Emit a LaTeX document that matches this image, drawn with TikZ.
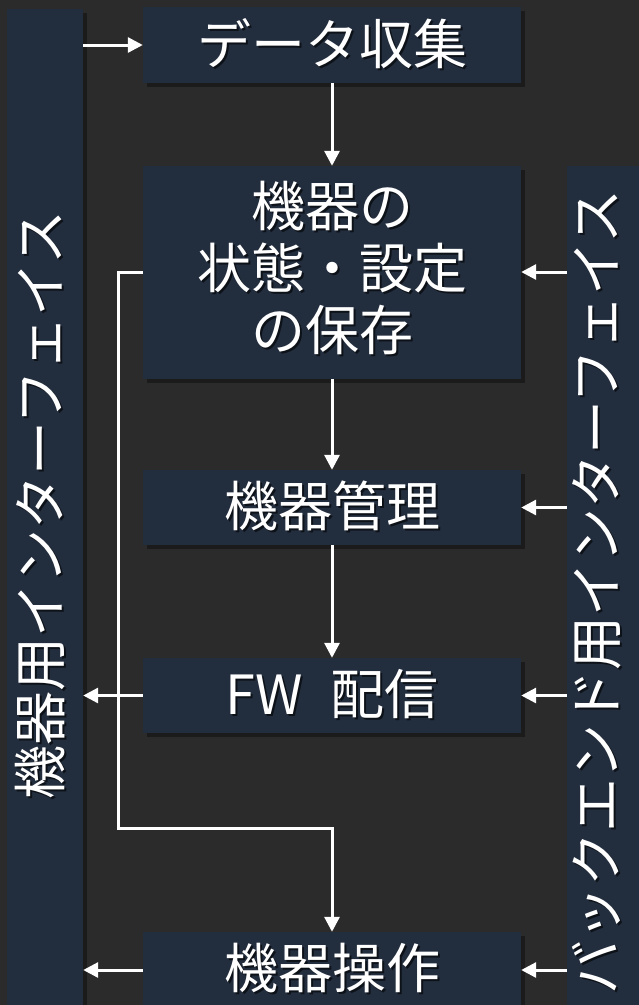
\documentclass[tikz,border=0pt]{standalone}
\usepackage{fontspec}
\setmainfont{Noto Sans CJK JP}
\usetikzlibrary{arrows.meta,shadows,calc}
\definecolor{bg}{HTML}{2B2B2B}
\definecolor{navy}{HTML}{222D3E}
\newcommand\shtxt[4][]{%
  \node[txt,#1,text=black,text opacity=0.6] at ($(#3)+(2,2)$) {#4};
  \node[txt,#1] (#2) at (#3) {#4};}
\begin{document}
\begin{tikzpicture}[x=1pt,y=-1pt,
  box/.style={fill=navy, draw=none, inner sep=0pt,
    drop shadow={shadow xshift=4pt, shadow yshift=-4pt, opacity=0.35, fill=black}},
  txt/.style={text=white, font=\fontsize{54}{62}\selectfont, align=center, inner sep=0pt},
  arr/.style={draw=white, line width=3pt, -{Triangle[length=15pt,width=15pt]}}]
\path[fill=bg] (0,0) rectangle (639,1005);
\useasboundingbox (0,0) rectangle (639,1005);
\clip (0,0) rectangle (639,1005);
% bars
\node[box, minimum width=76pt, minimum height=1000pt] (lbar) at (45,509) {};
\node[box, minimum width=80pt, minimum height=850pt] (rbar) at (607,591) {};
% boxes
\node[box, minimum width=378pt, minimum height=76pt] (box1) at (332,45) {};
\node[box, minimum width=378pt, minimum height=213pt] (box2) at (332,272.5) {};
\node[box, minimum width=378pt, minimum height=75pt] (box3) at (332,507.5) {};
\node[box, minimum width=378pt, minimum height=75pt] (box4) at (332,695.5) {};
\node[box, minimum width=378pt, minimum height=80pt] (box5) at (332,972) {};
% texts
\shtxt{t1}{332,44}{データ収集}
\shtxt{t2}{332,268}{機器の\\状態・設定\\の保存}
\shtxt{t3}{332,506}{機器管理}
\shtxt{t4}{332,694}{FW\hspace{0.5em}配信}
\shtxt{t5}{332,968}{機器操作}
\shtxt[rotate=90]{tl}{40,505}{機器用インターフェイス}
\shtxt[rotate=90]{tr}{597,592}{バックエンド用インターフェイス}
% connectors
\draw[arr] (lbar.east |- box1) -- (box1.west);
\draw[arr] (box1.south) -- (box2.north);
\draw[arr] (box2.south) -- (box3.north);
\draw[arr] (box3.south) -- (box4.north);
\coordinate (c1) at (118,272);
\coordinate (c2) at (118,828);
\coordinate (c3) at (332,828);
\draw[arr] (box2.west |- c1) -- (c1) -- (c2) -- (c3) -- (box5.north);
\draw[arr] (rbar.west |- c1) -- (box2.east |- c1);
\draw[arr] (rbar.west |- box3) -- (box3.east);
\draw[arr] (rbar.west |- box4) -- (box4.east);
\draw[arr] (rbar.west |- 0,970) -- (box5.east |- 0,970);
\draw[arr] (box4.west) -- (lbar.east |- box4);
\draw[arr] (box5.west |- 0,970) -- (lbar.east |- 0,970);
\end{tikzpicture}
\end{document}
